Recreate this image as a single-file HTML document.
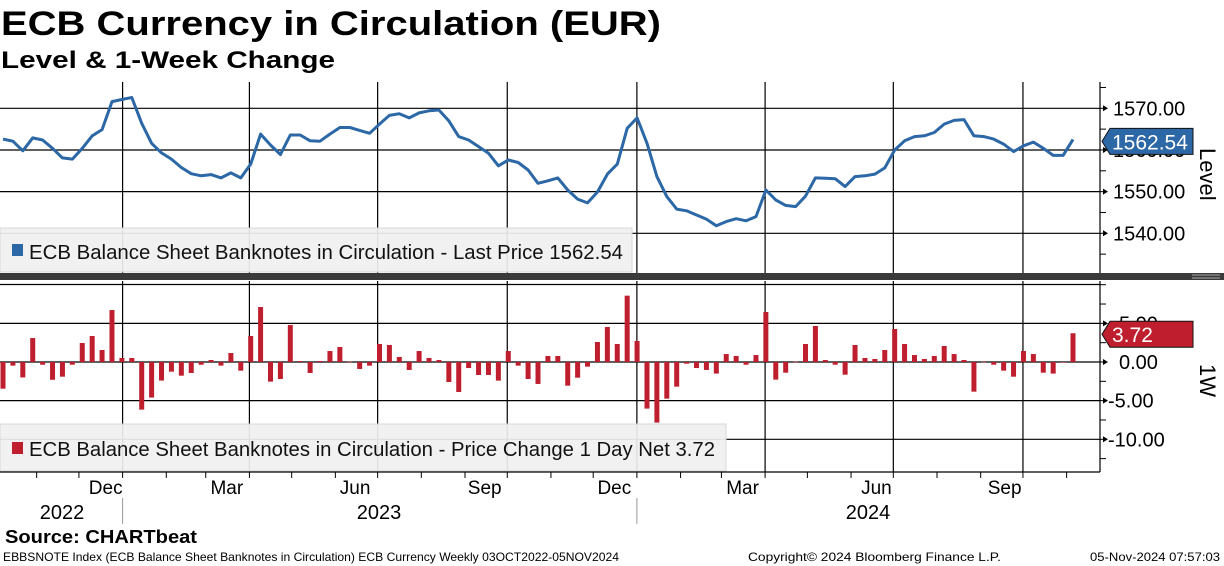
<!DOCTYPE html>
<html><head><meta charset="utf-8"><style>
html,body{margin:0;padding:0;background:#fff;}
svg{display:block;font-family:"Liberation Sans",sans-serif;}
</style></head><body>
<svg id="chart" width="1224" height="566" viewBox="0 0 1224 566" xmlns="http://www.w3.org/2000/svg">
<text x="1" y="35" font-size="34" font-weight="bold" textLength="660" lengthAdjust="spacingAndGlyphs">ECB Currency in Circulation (EUR)</text>
<text x="1" y="68" font-size="24" font-weight="bold" textLength="334" lengthAdjust="spacingAndGlyphs">Level &amp; 1-Week Change</text>
<g id="grid"></g>
<g id="upper"></g>
<g id="lower"></g>
<g id="axes"></g>
<text x="5" y="543" font-size="18" font-weight="bold" textLength="192" lengthAdjust="spacingAndGlyphs">Source: CHARTbeat</text>
<text x="3" y="561" font-size="12" textLength="616" lengthAdjust="spacingAndGlyphs">EBBSNOTE Index (ECB Balance Sheet Banknotes in Circulation) ECB Currency  Weekly 03OCT2022-05NOV2024</text>
<text x="748" y="561" font-size="12" textLength="253" lengthAdjust="spacingAndGlyphs">Copyright© 2024 Bloomberg Finance L.P.</text>
<text x="1090" y="561" font-size="12" textLength="130" lengthAdjust="spacingAndGlyphs">05-Nov-2024 07:57:03</text>
</svg>
<script>
const levels = [1562.6,1562.1,1559.8,1562.9,1562.4,1560.4,1558.1,1557.8,1560.4,1563.4,1564.9,1571.6,1572.1,1572.6,1566.4,1561.6,1559.3,1557.8,1555.8,1554.3,1553.8,1554.1,1553.3,1554.5,1553.3,1556.6,1563.8,1561.2,1558.9,1563.6,1563.6,1562.2,1562.1,1563.8,1565.4,1565.4,1564.7,1564.0,1566.2,1568.3,1568.7,1567.7,1568.9,1569.4,1569.6,1567.0,1563.2,1562.4,1560.8,1559.2,1556.2,1557.6,1557.0,1555.2,1552.0,1552.6,1553.3,1550.4,1548.2,1547.3,1549.9,1554.2,1556.6,1565.2,1567.7,1561.6,1553.6,1548.8,1545.8,1545.4,1544.4,1543.4,1541.8,1542.8,1543.5,1543.0,1544.0,1550.4,1548.0,1546.7,1546.4,1548.9,1553.3,1553.2,1553.1,1551.2,1553.6,1553.8,1554.2,1555.7,1560.0,1562.2,1563.2,1563.4,1564.2,1566.2,1567.1,1567.3,1563.4,1563.2,1562.6,1561.4,1559.6,1561.0,1561.9,1560.4,1558.7,1558.7,1562.54];
const changes = [-3.45,-0.47,-2.0,3.1,-0.35,-2.3,-1.9,-0.35,2.46,3.36,1.55,6.72,0.52,0.52,-6.16,-4.6,-2.4,-1.25,-1.77,-1.42,-0.35,0.26,-0.47,1.16,-1.12,3.36,7.11,-2.54,-2.2,4.78,0.13,-1.42,0.13,1.42,1.94,0.05,-0.9,-0.47,2.33,2.2,0.65,-1.03,1.42,0.52,0.26,-2.59,-3.88,-0.78,-1.68,-1.68,-2.41,1.42,-0.47,-2.2,-2.84,0.78,0.78,-3.06,-2.03,-0.6,2.59,4.53,2.33,8.58,2.72,-6.03,-7.84,-4.74,-3.19,-0.22,-0.78,-1.03,-1.5,1.03,0.78,-0.35,0.9,6.47,-2.28,-1.38,0.05,2.33,4.66,0.26,-0.35,-1.64,2.2,0.52,0.39,1.55,4.27,2.33,0.9,0.39,0.78,2.07,1.03,0.26,-3.84,0.03,-0.35,-1.12,-1.9,1.42,1.03,-1.38,-1.5,-0.05,3.72];
const levelTicks = [1570, 1560, 1550, 1540];
const changeTicks = [5, 0, -5, -10];
const monthLabels = ["Dec","Mar","Jun","Sep","Dec","Mar","Jun","Sep"];
const monthLabelDates = ["2022-12-20","2023-03-16","2023-06-15","2023-09-15","2023-12-16","2024-03-16","2024-06-19","2024-09-18"];
const yearLabels = ["2022","2023","2024"];
const yearLabelDates = ["2022-11-19","2023-07-02","2024-06-13"];
const quarterDates = ["2023-01-01","2023-04-01","2023-07-01","2023-10-01","2024-01-01","2024-04-01","2024-07-01","2024-10-01"];
const yearDividerDates = ["2023-01-01","2024-01-01"];
const lastLevel = 1562.54, lastChange = 3.72;

const NS = "http://www.w3.org/2000/svg";
const PL = 0, PR = 1100;
const UT = 82, UB = 273, LT = 281, LB = 472;
function xi(i){ return 3 + i*(1070/(levels.length-1)); }
function xd(s){ const d=(Date.parse(s)-Date.parse("2023-01-01"))/86400000; return 122.6 + d*1.409; }
function yU(v){ return 108.3 + (1570 - v)*4.167; }
function yL(v){ return 362 - v*7.73; }
function mk(tag, attrs, parent){ const e=document.createElementNS(NS,tag); for(const k in attrs) e.setAttribute(k,attrs[k]); parent.appendChild(e); return e; }
const grid=document.getElementById('grid'), upper=document.getElementById('upper'), lower=document.getElementById('lower'), axes=document.getElementById('axes');

levelTicks.forEach(v=>{ const l=mk('line',{x1:PL,x2:PR,y1:yU(v),y2:yU(v),stroke:'#000','stroke-width':1.2},grid);

 });
changeTicks.forEach(v=>{ const l=mk('line',{x1:PL,x2:PR,y1:yL(v),y2:yL(v),stroke:'#000','stroke-width':1.2},grid);

 });
mk('line',{x1:PL,x2:PR,y1:284.5,y2:284.5,stroke:'#000','stroke-width':1.2},grid);
quarterDates.forEach(d=>{ const x=xd(d);
const a=mk('line',{x1:x,x2:x,y1:UT,y2:UB,stroke:'#000','stroke-width':1.2},grid);


const b=mk('line',{x1:x,x2:x,y1:LT,y2:LB,stroke:'#000','stroke-width':1.2},grid);

 });

const lg1=mk('rect',{x:0,y:228,width:632,height:44,fill:'#f0f0f0',stroke:'#d8d8d8','fill-opacity':0.92},upper);


mk('rect',{x:12,y:244,width:11,height:12,fill:'#2c67a6'},upper);
const lt1=mk('text',{x:29,y:259,'font-size':20,fill:'#111',textLength:594,lengthAdjust:'spacingAndGlyphs'},upper);
lt1.textContent='ECB Balance Sheet Banknotes in Circulation - Last Price '+lastLevel.toFixed(2);



const pts=levels.map((v,i)=>xi(i).toFixed(1)+','+yU(v).toFixed(1)).join(' ');
const pl=mk('polyline',{points:pts,fill:'none',stroke:'#2c67a6','stroke-width':3,'stroke-linejoin':'round'},upper);



changes.forEach((v,i)=>{ const x=xi(i)-2.5; const y0=yL(0), y1=yL(v);
const r=mk('rect',{x:x,y:Math.min(y0,y1),width:5,height:Math.max(Math.abs(y1-y0),0.6),fill:'#be1e2d'},lower);

 });

const lg2=mk('rect',{x:0,y:424,width:726,height:47,fill:'#f0f0f0',stroke:'#d8d8d8','fill-opacity':0.92},lower);


mk('rect',{x:12,y:442,width:11,height:12,fill:'#be1e2d'},lower);
const lt2=mk('text',{x:29,y:456,'font-size':20,fill:'#111',textLength:686,lengthAdjust:'spacingAndGlyphs'},lower);
lt2.textContent='ECB Balance Sheet Banknotes in Circulation - Price Change 1 Day Net '+lastChange.toFixed(2);



const sep=mk('rect',{x:0,y:273,width:1224,height:7,fill:'#3a3a3a'},axes);


mk('line',{x1:1192,x2:1220,y1:275,y2:275,stroke:'#aaa','stroke-width':1},axes);
mk('line',{x1:1192,x2:1220,y1:278,y2:278,stroke:'#aaa','stroke-width':1},axes);

mk('line',{x1:PR,x2:PR,y1:UT,y2:UB,stroke:'#000','stroke-width':1.2},axes);
mk('line',{x1:PR,x2:PR,y1:LT,y2:LB,stroke:'#000','stroke-width':1.2},axes);
mk('line',{x1:0,x2:PR,y1:LB,y2:LB,stroke:'#000','stroke-width':1.2},axes);
for(let v=1575; v>=1535; v-=5){ mk('line',{x1:PR,x2:PR+6,y1:yU(v),y2:yU(v),stroke:'#000'},axes); }
for(let v=10; v>=-12.5; v-=2.5){ mk('line',{x1:PR,x2:PR+6,y1:yL(v),y2:yL(v),stroke:'#000'},axes); }
levelTicks.forEach(v=>{ mk('path',{d:`M${PR+3},${yU(v)-3}L${PR+8},${yU(v)}L${PR+3},${yU(v)+3}Z`,fill:'#000'},axes);
const t=mk('text',{x:1113,y:yU(v)+7,'font-size':20},axes); t.textContent=v.toFixed(2);

 });
changeTicks.forEach(v=>{ mk('path',{d:`M${PR+3},${yL(v)-3}L${PR+8},${yL(v)}L${PR+3},${yL(v)+3}Z`,fill:'#000'},axes);
const t=mk('text',{x:v<0?1108:1119,y:yL(v)+7,'font-size':20},axes); t.textContent=v.toFixed(2);

 });

function tag(y,txt,col,name){ const g=mk('g',{},axes);


mk('path',{d:`M1102,${y}L1110,${y-13}L1193,${y-13}L1193,${y+13}L1110,${y+13}Z`,fill:col,stroke:'#111','stroke-width':1},g);
const t=mk('text',{x:1112,y:y+8,'font-size':21,fill:'#fff'},g); t.textContent=txt; }
tag(yU(lastLevel)+2,lastLevel.toFixed(2),'#2c67a6','level-value-tag');
tag(yL(lastChange)+1,lastChange.toFixed(2),'#be1e2d','change-value-tag');

const at1=mk('text',{x:0,y:0,'font-size':22,transform:'translate(1200,148) rotate(90)'},axes); at1.textContent='Level';


const at2=mk('text',{x:0,y:0,'font-size':22,transform:'translate(1200,364) rotate(90)'},axes); at2.textContent='1W';



for(let y=2022,m=10; y<2025; ){ const s=`${y}-${String(m).padStart(2,'0')}-01`; const x=xd(s);
if(x>0 && x<PR) mk('line',{x1:x,x2:x,y1:LB,y2:LB+6,stroke:'#000'},axes);
m++; if(m>12){m=1;y++;} if(y===2024&&m>11)break; }
monthLabels.forEach((lab,i)=>{ const t=mk('text',{x:xd(monthLabelDates[i]),y:494,'font-size':19,'text-anchor':'middle'},axes); t.textContent=lab;

 });
yearLabels.forEach((lab,i)=>{ const t=mk('text',{x:xd(yearLabelDates[i]),y:519,'font-size':20,'text-anchor':'middle'},axes); t.textContent=lab;

 });
yearDividerDates.forEach(d=>{ const x=xd(d); mk('line',{x1:x,x2:x,y1:498,y2:524,stroke:'#999'},axes); });
</script>
</body></html>
